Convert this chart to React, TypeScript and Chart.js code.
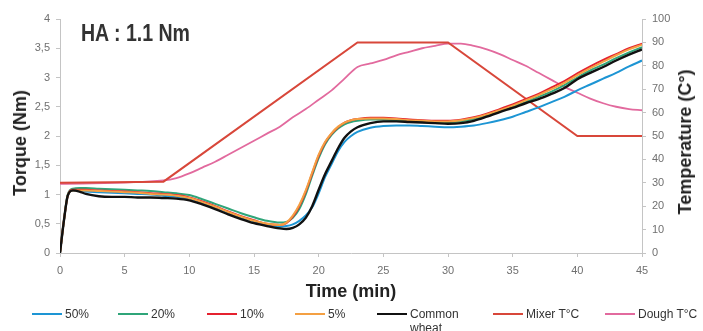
import React, { useEffect, useRef } from "react";
import { Chart, registerables } from "chart.js";
Chart.register(...registerables);

// ---- data ----
const timeMin = [0, 0.3, 0.6, 1, 1.5, 2, 3, 4, 5, 6, 7, 8, 9, 10, 11, 12, 13, 14, 15, 16, 17, 17.5, 18, 18.5, 19, 19.5, 20, 20.5, 21, 21.5, 22, 22.5, 23, 24, 25, 26, 27, 28, 29, 30, 31, 32, 33, 34, 35, 36, 37, 38, 39, 40, 41, 42, 43, 44, 45];

const torque50 = [0, 0.55, 0.98, 1.07, 1.06, 1.05, 1.04, 1.03, 1.02, 1.01, 1.0, 0.98, 0.96, 0.93, 0.86, 0.78, 0.69, 0.61, 0.54, 0.48, 0.45, 0.46, 0.49, 0.55, 0.64, 0.78, 1.02, 1.3, 1.52, 1.74, 1.9, 2.0, 2.07, 2.14, 2.17, 2.18, 2.18, 2.17, 2.16, 2.15, 2.16, 2.18, 2.22, 2.27, 2.33, 2.41, 2.49, 2.58, 2.67, 2.78, 2.88, 2.98, 3.08, 3.19, 3.29];
const torque20 = [0, 0.55, 1.0, 1.1, 1.11, 1.11, 1.1, 1.09, 1.08, 1.07, 1.06, 1.04, 1.02, 0.99, 0.92, 0.84, 0.76, 0.68, 0.61, 0.55, 0.52, 0.53, 0.6, 0.75, 1.0, 1.32, 1.62, 1.86, 2.02, 2.13, 2.2, 2.24, 2.26, 2.28, 2.28, 2.27, 2.26, 2.25, 2.24, 2.23, 2.25, 2.29, 2.35, 2.42, 2.5, 2.58, 2.67, 2.76, 2.87, 3.0, 3.12, 3.22, 3.33, 3.43, 3.52];
const torque10 = [0, 0.55, 0.98, 1.08, 1.08, 1.08, 1.07, 1.06, 1.05, 1.04, 1.02, 1.01, 0.99, 0.95, 0.88, 0.8, 0.71, 0.63, 0.56, 0.5, 0.48, 0.51, 0.62, 0.8, 1.05, 1.36, 1.66, 1.89, 2.04, 2.15, 2.23, 2.27, 2.29, 2.31, 2.31, 2.3, 2.28, 2.27, 2.26, 2.26, 2.28, 2.32, 2.38, 2.46, 2.54, 2.63, 2.72, 2.83, 2.94, 3.07, 3.19, 3.3, 3.4, 3.5, 3.58];
const torque5 = [0, 0.55, 0.98, 1.07, 1.07, 1.07, 1.06, 1.05, 1.04, 1.03, 1.01, 1.0, 0.98, 0.94, 0.87, 0.79, 0.7, 0.62, 0.55, 0.5, 0.48, 0.52, 0.64, 0.82, 1.07, 1.38, 1.68, 1.9, 2.05, 2.16, 2.23, 2.27, 2.29, 2.3, 2.3, 2.29, 2.27, 2.26, 2.25, 2.25, 2.27, 2.31, 2.37, 2.44, 2.52, 2.61, 2.7, 2.8, 2.91, 3.04, 3.16, 3.27, 3.38, 3.48, 3.56];
const torqueCommon = [0, 0.55, 0.98, 1.07, 1.05, 1.01, 0.97, 0.96, 0.96, 0.95, 0.95, 0.94, 0.93, 0.9, 0.83, 0.75, 0.66, 0.58, 0.51, 0.46, 0.42, 0.41, 0.43, 0.49, 0.6, 0.8, 1.08, 1.35, 1.57, 1.79, 1.97, 2.08, 2.15, 2.22, 2.25, 2.25, 2.24, 2.23, 2.22, 2.21, 2.22, 2.26, 2.33, 2.41, 2.48, 2.56, 2.63, 2.72, 2.82, 2.97, 3.08, 3.18, 3.29, 3.39, 3.48];

const mixerTime = [0, 8, 23, 30, 40, 45];
const mixerTemp = [30, 30.5, 90, 90, 50, 50];

const doughTime = [0, 8, 9, 10, 11, 12, 13, 14, 15, 16, 17, 18, 19, 20, 21, 22, 23, 24, 25, 26, 27, 28, 29, 30, 31, 32, 33, 34, 35, 36, 37, 38, 39, 40, 41, 42, 43, 44, 45];
const doughTemp = [29.5, 31, 32, 34, 36.5, 39, 42, 45, 48, 51, 54, 58, 61.5, 65.5, 69.5, 74.5, 79.5, 81, 82.5, 84.5, 86, 87.5, 88.5, 89.5, 89.5, 88.5, 87, 85, 82.5, 80, 77, 74, 71, 68.5, 66, 64, 62.5, 61.5, 61];

const legendLabels = ["50%", "20%", "10%", "5%", "Common wheat", "Mixer T°C", "Dough T°C"];
const seriesColors = ["#1d95d4", "#2fa579", "#e5212f", "#f4a043", "#111111", "#d8473a", "#e26a9e"];
const legendLeft = [32, 118, 207, 295, 377, 493, 605];

const titleText = "HA : 1.1 Nm";
const xTitle = "Time (min)";
const yLeftTitle = "Torque (Nm)";
const yRightTitle = "Temperature (C°)";

const pts = (xs: number[], ys: number[]) => xs.map((x, i) => ({ x, y: ys[i] }));

export default function App() {
  const ref = useRef<HTMLCanvasElement | null>(null);

  useEffect(() => {
    if (!ref.current) return;
    const axisColor = "#c4c4c4";
    const tickFont = { family: "'Liberation Sans', Arial, sans-serif", size: 11 };
    const torqueDs = (label: string, data: number[], color: string, w = 2) => ({
      label,
      data: pts(timeMin, data),
      borderColor: color,
      backgroundColor: color,
      borderWidth: w,
      pointRadius: 0,
      tension: 0.4,
      cubicInterpolationMode: "monotone" as const,
      yAxisID: "y",
    });
    const chart = new Chart(ref.current, {
      type: "line",
      data: {
        datasets: [
          torqueDs(legendLabels[4], torqueCommon, seriesColors[4], 2.4),
          torqueDs(legendLabels[3], torque5, seriesColors[3]),
          torqueDs(legendLabels[2], torque10, seriesColors[2]),
          torqueDs(legendLabels[1], torque20, seriesColors[1]),
          torqueDs(legendLabels[0], torque50, seriesColors[0]),
          {
            label: legendLabels[5],
            data: pts(mixerTime, mixerTemp),
            borderColor: seriesColors[5],
            backgroundColor: seriesColors[5],
            borderWidth: 2,
            pointRadius: 0,
            tension: 0,
            yAxisID: "y2",
          },
          {
            label: legendLabels[6],
            data: pts(doughTime, doughTemp),
            borderColor: seriesColors[6],
            backgroundColor: seriesColors[6],
            borderWidth: 1.8,
            pointRadius: 0,
            tension: 0.4,
            cubicInterpolationMode: "monotone" as const,
            yAxisID: "y2",
          },
        ],
      },
      options: {
        animation: false,
        responsive: false,
        devicePixelRatio: 1,
        layout: { padding: { top: 19, left: 0, right: 0, bottom: 0 } },
        plugins: { legend: { display: false }, tooltip: { enabled: false } },
        scales: {
          x: {
            type: "linear",
            min: 0,
            max: 45,
            afterFit: (s: any) => { s.height = 78; },
            ticks: { stepSize: 5, color: "#707070", font: tickFont, padding: 7, maxRotation: 0 },
            grid: { display: true, drawOnChartArea: false, drawTicks: true, tickLength: 4, color: axisColor },
            border: { display: true, color: axisColor },
            title: {
              display: true,
              text: xTitle,
              color: "#222",
              font: { family: "'Liberation Sans', Arial, sans-serif", size: 18, weight: "bold" },
              padding: { top: 0, bottom: 28 },
            },
          },
          y: {
            position: "left",
            min: 0,
            max: 4,
            afterFit: (s: any) => { s.width = 60; },
            ticks: {
              stepSize: 0.5,
              color: "#707070",
              font: tickFont,
              padding: 6,
              callback: (v: any) => String(v).replace(".", ","),
            },
            grid: { display: true, drawOnChartArea: false, drawTicks: true, tickLength: 4, color: axisColor },
            border: { display: true, color: axisColor },
          },
          y2: {
            position: "right",
            min: 0,
            max: 100,
            afterFit: (s: any) => { s.width = 61; },
            ticks: { stepSize: 10, color: "#707070", font: tickFont, padding: 6 },
            grid: { display: true, drawOnChartArea: false, drawTicks: true, tickLength: 4, color: axisColor },
            border: { display: true, color: axisColor },
          },
        },
      },
    } as any);
    return () => chart.destroy();
  }, []);

  const sans = "'Liberation Sans', Arial, sans-serif";
  return (
    <div style={{ position: "fixed", left: 0, top: 0, width: 703, height: 331, background: "#fff", overflow: "hidden" }}>
      <canvas ref={ref} width={703} height={331} style={{ position: "absolute", left: 0, top: 0 }} />
      <div
        style={{
          position: "absolute",
          left: 81,
          top: 22,
          fontFamily: "'Liberation Sans Narrow', 'Arial Narrow', 'Liberation Sans', sans-serif",
          fontWeight: "bold",
          fontSize: 23,
          lineHeight: "23px",
          color: "#333",
          whiteSpace: "nowrap",
          transform: "scaleX(0.85)",
          transformOrigin: "0 0",
        }}
      >
        {titleText}
      </div>
      <div
        style={{
          position: "absolute", left: 19.5, top: 143, transform: "translate(-50%, -50%) rotate(-90deg)",
          fontFamily: sans, fontWeight: "bold", fontSize: 18, color: "#222", whiteSpace: "nowrap", lineHeight: "20px",
        }}
      >
        {yLeftTitle}
      </div>
      <div
        style={{
          position: "absolute", left: 684.5, top: 142, transform: "translate(-50%, -50%) rotate(-90deg)",
          fontFamily: sans, fontWeight: "bold", fontSize: 18, color: "#222", whiteSpace: "nowrap", lineHeight: "20px",
        }}
      >
        {yRightTitle}
      </div>
      {legendLabels.map((lab, i) => (
        <div
          key={lab}
          style={{ position: "absolute", left: legendLeft[i], top: 307, display: "flex", alignItems: "flex-start" }}
        >
          <span style={{ display: "inline-block", width: 30, height: 2, marginTop: 6, background: seriesColors[i] }} />
          <span
            style={{
              marginLeft: 3, fontFamily: sans, fontSize: 12, lineHeight: "14px", color: "#333",
              width: lab === "Common wheat" ? 56 : "auto", whiteSpace: lab === "Common wheat" ? "normal" : "nowrap",
            }}
          >
            {lab}
          </span>
        </div>
      ))}
    </div>
  );
}
